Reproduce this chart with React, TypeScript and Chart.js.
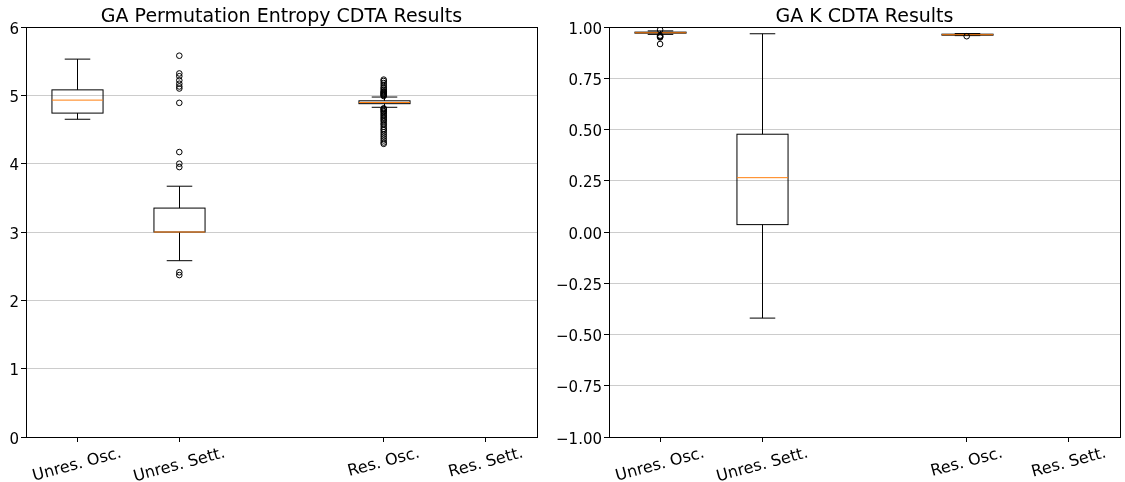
import { useEffect, useRef } from "react";
import { Chart, registerables } from "chart.js";

Chart.register(...registerables);

// Categories and where each box sits on the numeric x axis (slot 3 is left empty)
const CATEGORIES = ["Unres. Osc.", "Unres. Sett.", "Res. Osc.", "Res. Sett."];
const POSITIONS = [1, 2, 4, 5];

// ---- GA Permutation Entropy ----
const PE_WHISKER_LOW = [4.65, 2.58, 4.825, null];
const PE_Q1 = [4.74, 3.0, 4.878, null];
const PE_MEDIAN = [4.93, 3.0, 4.895, null];
const PE_Q3 = [5.08, 3.35, 4.92, null];
const PE_WHISKER_HIGH = [5.53, 3.67, 4.975, null];
const PE_FLIERS_UNRES_OSC: number[] = [];
const PE_FLIERS_UNRES_SETT = [5.58, 5.32, 5.28, 5.22, 5.17, 5.13, 5.1, 4.89, 4.17, 4.0, 3.95, 2.41, 2.37];
const PE_FLIERS_RES_OSC = [
  5.23, 5.21, 5.18, 5.15, 5.12, 5.1, 5.08, 5.06, 5.05, 5.04, 5.03, 5.02, 5.01, 5.0, 4.99,
  4.81, 4.8, 4.79, 4.77, 4.76, 4.74, 4.72, 4.7, 4.68, 4.66, 4.64, 4.62, 4.59, 4.57, 4.54,
  4.51, 4.49, 4.46, 4.43, 4.4, 4.37, 4.34, 4.31, 4.29,
];
const PE_FLIERS_RES_SETT: number[] = [];
const PE_Y_TICKS = [0, 1, 2, 3, 4, 5, 6];

// ---- GA K ----
const K_WHISKER_LOW = [0.964, -0.42, 0.958, null];
const K_Q1 = [0.97, 0.036, 0.96, null];
const K_MEDIAN = [0.972, 0.265, 0.9625, null];
const K_Q3 = [0.975, 0.477, 0.965, null];
const K_WHISKER_HIGH = [0.981, 0.967, 0.968, null];
const K_FLIERS_UNRES_OSC = [0.986, 0.958, 0.955, 0.952, 0.949, 0.917];
const K_FLIERS_UNRES_SETT: number[] = [];
const K_FLIERS_RES_OSC = [0.955];
const K_FLIERS_RES_SETT: number[] = [];
const K_Y_TICKS = [-1, -0.75, -0.5, -0.25, 0, 0.25, 0.5, 0.75, 1];

const FAMILY = "DejaVu Sans";
const TICK_SIZE = 15;
const XLABEL_SIZE = 16;
const TITLE_SIZE = 19;
const TICK_LEN = 5;
const MEDIAN_COLOR = "#ff7f0e";
const GRID_COLOR = "#cccccc";

Chart.defaults.font.family = FAMILY;

type Spec = {
  title: string;
  low: (number | null)[];
  q1: (number | null)[];
  median: (number | null)[];
  q3: (number | null)[];
  high: (number | null)[];
  fliers: number[][];
  yMin: number;
  yMax: number;
  yTicks: number[];
  format: (v: number) => string;
  axisWidth: number;
  rightPad: number;
};

function makePlugin(spec: Spec) {
  return {
    id: "boxDraw",
    beforeDatasetsDraw(chart: any) {
      const { ctx } = chart;
      const x = chart.scales.x;
      const y = chart.scales.y;
      ctx.save();
      ctx.lineWidth = 1;
      POSITIONS.forEach((pos, i) => {
        const lo = spec.low[i];
        const a = spec.q1[i];
        const m = spec.median[i];
        const b = spec.q3[i];
        const hi = spec.high[i];
        if (lo == null || a == null || m == null || b == null || hi == null) return;
        const cx = Math.round(x.getPixelForValue(pos)) + 0.5;
        const half = x.getPixelForValue(pos + 0.25) - x.getPixelForValue(pos);
        const capHalf = half / 2;
        const yLo = y.getPixelForValue(lo);
        const yA = y.getPixelForValue(a);
        const yM = y.getPixelForValue(m);
        const yB = y.getPixelForValue(b);
        const yHi = y.getPixelForValue(hi);
        ctx.strokeStyle = "#000";
        ctx.beginPath();
        // whiskers
        ctx.moveTo(cx, yA);
        ctx.lineTo(cx, yLo);
        ctx.moveTo(cx, yB);
        ctx.lineTo(cx, yHi);
        // caps
        ctx.moveTo(cx - capHalf, yLo);
        ctx.lineTo(cx + capHalf, yLo);
        ctx.moveTo(cx - capHalf, yHi);
        ctx.lineTo(cx + capHalf, yHi);
        ctx.stroke();
        // box
        ctx.strokeRect(cx - half, yB, half * 2, yA - yB);
        // median
        ctx.strokeStyle = MEDIAN_COLOR;
        ctx.beginPath();
        ctx.moveTo(cx - half, yM);
        ctx.lineTo(cx + half, yM);
        ctx.stroke();
      });
      ctx.restore();
    },
    afterDraw(chart: any) {
      const { ctx, chartArea } = chart;
      const x = chart.scales.x;
      const y = chart.scales.y;
      ctx.save();
      // frame
      ctx.strokeStyle = "#000";
      ctx.lineWidth = 1;
      ctx.strokeRect(
        Math.round(chartArea.left) + 0.5,
        Math.round(chartArea.top) + 0.5,
        Math.round(chartArea.right - chartArea.left),
        Math.round(chartArea.bottom - chartArea.top)
      );
      ctx.fillStyle = "#000";
      // title
      ctx.font = `${TITLE_SIZE}px '${FAMILY}'`;
      ctx.textAlign = "center";
      ctx.textBaseline = "alphabetic";
      ctx.fillText(spec.title, (chartArea.left + chartArea.right) / 2, chartArea.top - 5.5);
      // y tick labels, right-aligned against the tick marks
      ctx.font = `${TICK_SIZE}px '${FAMILY}'`;
      ctx.textAlign = "right";
      ctx.textBaseline = "alphabetic";
      spec.yTicks.forEach((v) => {
        const py = y.getPixelForValue(v);
        ctx.fillText(spec.format(v), chartArea.left - TICK_LEN - 2, py + 6.5);
      });
      // rotated category labels, centred under their ticks
      const ang = (15 * Math.PI) / 180;
      ctx.font = `${XLABEL_SIZE}px '${FAMILY}'`;
      CATEGORIES.forEach((label, i) => {
        const cx = x.getPixelForValue(POSITIONS[i]);
        const w = ctx.measureText(label).width;
        const h = XLABEL_SIZE * 1.17;
        const bh = w * Math.sin(ang) + h * Math.cos(ang);
        const cy = chartArea.bottom + 7 + bh / 2;
        ctx.save();
        ctx.translate(cx, cy);
        ctx.rotate(-ang);
        ctx.textAlign = "center";
        ctx.textBaseline = "middle";
        ctx.fillText(label, 0, 0);
        ctx.restore();
      });
      ctx.restore();
    },
  };
}

function buildConfig(spec: Spec): any {
  const points: { x: number; y: number }[] = [];
  spec.fliers.forEach((list, i) => list.forEach((v) => points.push({ x: POSITIONS[i], y: v })));
  return {
    type: "scatter",
    data: {
      datasets: [
        {
          data: points,
          pointRadius: 2.8,
          pointBorderWidth: 1,
          pointBorderColor: "#000",
          pointBackgroundColor: "rgba(0,0,0,0)",
          showLine: false,
        },
      ],
    },
    options: {
      responsive: false,
      animation: false,
      layout: { padding: { top: 27, right: spec.rightPad, left: 0, bottom: 0 } },
      plugins: { legend: { display: false }, tooltip: { enabled: false }, title: { display: false } },
      scales: {
        x: {
          type: "linear",
          min: 0.5,
          max: 5.5,
          afterBuildTicks: (s: any) => {
            s.ticks = POSITIONS.map((v) => ({ value: v }));
          },
          afterFit: (s: any) => {
            s.height = 45;
          },
          ticks: { display: false },
          grid: { drawOnChartArea: false, drawTicks: true, tickLength: TICK_LEN, tickColor: "#000" },
          border: { display: false },
        },
        y: {
          type: "linear",
          min: spec.yMin,
          max: spec.yMax,
          afterBuildTicks: (s: any) => {
            s.ticks = spec.yTicks.map((v) => ({ value: v }));
          },
          afterFit: (s: any) => {
            s.width = spec.axisWidth;
          },
          ticks: { display: false },
          grid: { color: GRID_COLOR, lineWidth: 1, tickColor: "#000", tickLength: TICK_LEN },
          border: { display: false },
        },
      },
    },
    plugins: [makePlugin(spec)],
  };
}

const PE_SPEC: Spec = {
  title: "GA Permutation Entropy CDTA Results",
  low: PE_WHISKER_LOW,
  q1: PE_Q1,
  median: PE_MEDIAN,
  q3: PE_Q3,
  high: PE_WHISKER_HIGH,
  fliers: [PE_FLIERS_UNRES_OSC, PE_FLIERS_UNRES_SETT, PE_FLIERS_RES_OSC, PE_FLIERS_RES_SETT],
  yMin: 0,
  yMax: 6,
  yTicks: PE_Y_TICKS,
  format: (v) => String(v),
  axisWidth: 26,
  rightPad: 15,
};

const K_SPEC: Spec = {
  title: "GA K CDTA Results",
  low: K_WHISKER_LOW,
  q1: K_Q1,
  median: K_MEDIAN,
  q3: K_Q3,
  high: K_WHISKER_HIGH,
  fliers: [K_FLIERS_UNRES_OSC, K_FLIERS_UNRES_SETT, K_FLIERS_RES_OSC, K_FLIERS_RES_SETT],
  yMin: -1,
  yMax: 1,
  yTicks: K_Y_TICKS,
  format: (v) => v.toFixed(2).replace("-", "\u2212"),
  axisWidth: 57,
  rightPad: 4,
};

function BoxChart({ spec, left, width }: { spec: Spec; left: number; width: number }) {
  const ref = useRef<HTMLCanvasElement>(null);
  useEffect(() => {
    const chart = new Chart(ref.current as HTMLCanvasElement, buildConfig(spec));
    return () => chart.destroy();
  }, [spec]);
  return (
    <canvas
      ref={ref}
      width={width}
      height={482}
      style={{ position: "absolute", left, top: 0, width, height: 482, display: "block" }}
    />
  );
}

export default function App() {
  return (
    <div style={{ position: "fixed", left: 0, top: 0, width: 1125, height: 482, background: "#fff" }}>
      <BoxChart spec={PE_SPEC} left={0} width={552} />
      <BoxChart spec={K_SPEC} left={552} width={573} />
    </div>
  );
}
